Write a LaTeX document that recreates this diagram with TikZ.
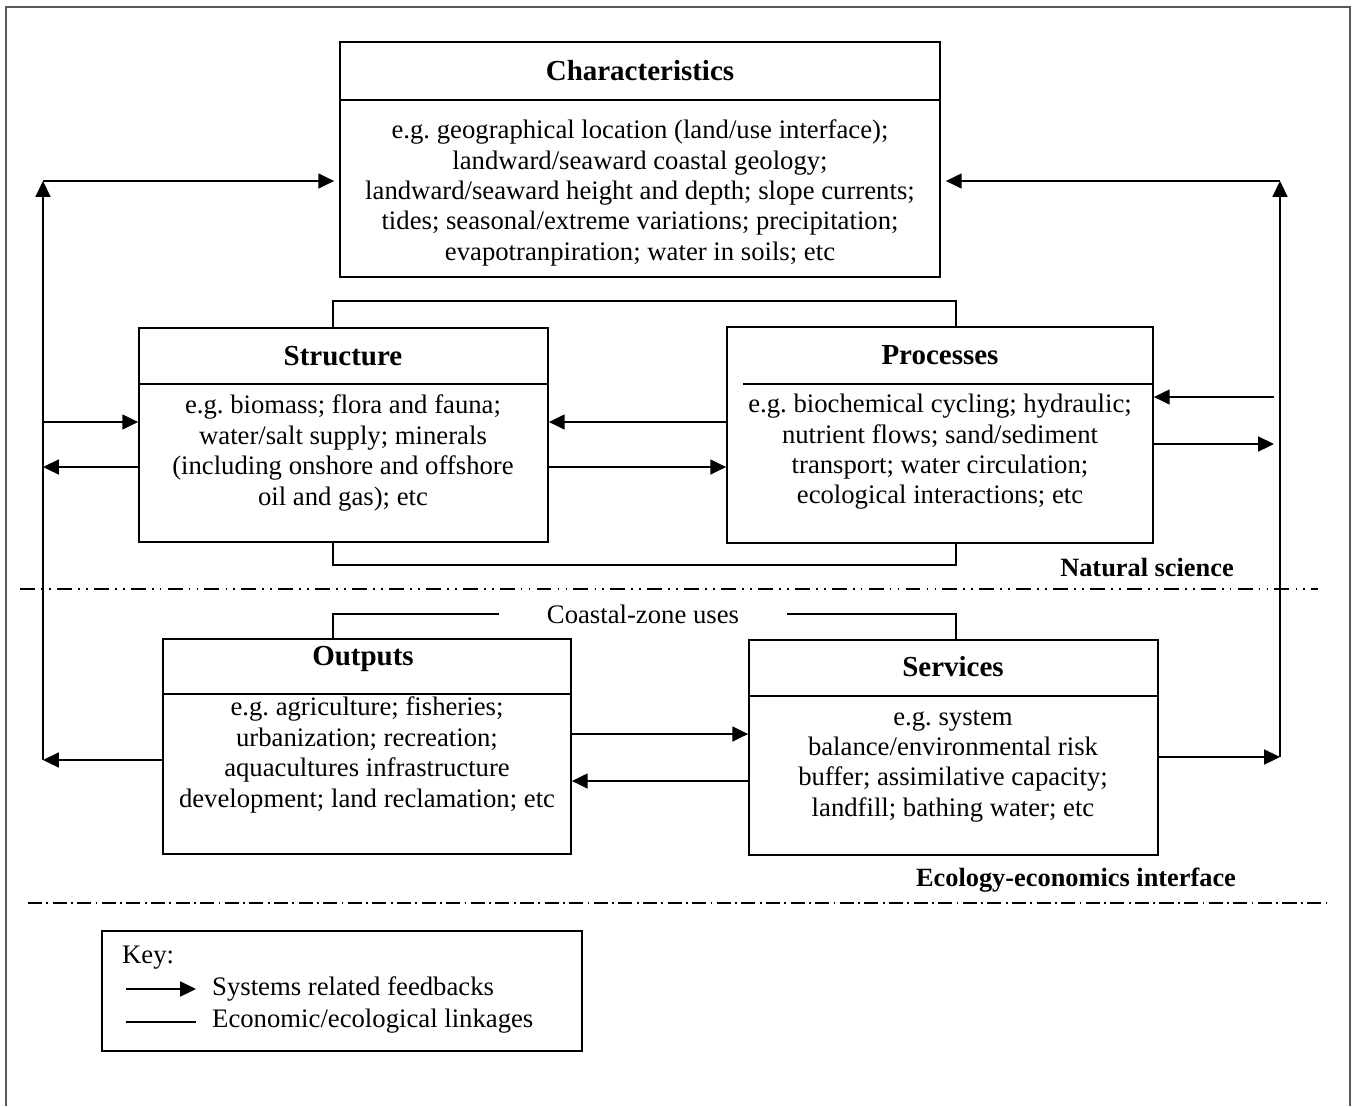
\documentclass[tikz,border=0pt]{standalone}
\usepackage{fontspec}
\setmainfont{Liberation Serif}
\usetikzlibrary{arrows.meta,fit}
\frenchspacing

\begin{document}
\begin{tikzpicture}[x=0.02cm,y=-0.02cm,
		box/.style={draw,line width=1pt,inner sep=0pt},
		ttl/.style={font=\fontsize{16.5}{19}\selectfont\bfseries},
		txt/.style={font=\fontsize{15.2}{17.3}\selectfont,align=center},
		fb/.style={line width=1pt,-{Triangle[length=9pt,width=8.5pt]}},
		link/.style={line width=1pt},
		sepa/.style={line width=1pt,dash pattern=on 8.5pt off 3.5pt on 1pt off 3.5pt on 1pt off 3.5pt},
		sepb/.style={line width=1pt,dash pattern=on 8pt off 2.5pt on 1pt off 2.5pt}]
			\useasboundingbox (0,0) rectangle (1352,1106);
			\draw[gray!70!black,line width=0.8pt] (6,1106) |- (1350,7) -- (1350,1106);
			% characteristics
			\node[box,fit={(340,42) (940,277)}] (char) {};
			\draw[link] (char.west |- 0,100) -- (char.east |- 0,100);
			\node[ttl] (chart) at (640,71) {Characteristics};
			\node[txt] (charb) at (640,193) {e.g. geographical location (land/use interface);\\ landward/seaward coastal geology;\\ landward/seaward height and depth; slope currents;\\ tides; seasonal/extreme variations; precipitation;\\ evapotranpiration; water in soils; etc};
			% structure and processes
			\node[box,fit={(139,328) (548,542)}] (struct) {};
			\draw[link] (struct.west |- 0,384) -- (struct.east |- 0,384);
			\node[ttl] (structt) at (343,356) {Structure};
			\node[txt] (structb) at (343,453) {e.g. biomass; flora and fauna;\\ water/salt supply; minerals\\ (including onshore and offshore\\ oil and gas); etc};
			\node[box,fit={(727,327) (1153,543)}] (proc) {};
			\draw[link] (743,384) -- (proc.east |- 0,384);
			\node[ttl] (proct) at (940,355) {Processes};
			\node[txt] (procb) at (940,452) {e.g. biochemical cycling; hydraulic;\\ nutrient flows; sand/sediment\\ transport; water circulation;\\ ecological interactions; etc};
			\draw[link] (struct.north -| 333,0) |- (956,301) -- (proc.north -| 956,0);
			\draw[link] (struct.south -| 333,0) |- (956,565) -- (proc.south -| 956,0);
			\draw[fb] (proc.west |- 0,422) -- (struct.east |- 0,422);
			\draw[fb] (struct.east |- 0,467) -- (proc.west |- 0,467);
			\node[ttl,font=\fontsize{15}{17}\selectfont\bfseries] (nat) at (1147,568) {Natural science};
			\draw[sepa] (20,589) -- (1318,589);
			% outputs and services
			\node[box,fit={(163,639) (571,854)}] (outp) {};
			\draw[link] (outp.west |- 0,694) -- (outp.east |- 0,694);
			\node[ttl] (outpt) at (363,659) {Outputs};
			\node[txt] (outpb) at (367,755) {e.g. agriculture; fisheries;\\ urbanization; recreation;\\ aquacultures infrastructure\\ development; land reclamation; etc};
			\node[box,fit={(749,640) (1158,855)}] (serv) {};
			\draw[link] (serv.west |- 0,696) -- (serv.east |- 0,696);
			\node[ttl] (servt) at (953,667) {Services};
			\node[txt] (servb) at (953,766) {e.g. system\\ balance/environmental risk\\ buffer; assimilative capacity;\\ landfill; bathing water; etc};
			\node[txt,inner xsep=48*0.02cm] (cz) at (643,614) {Coastal-zone uses};
			\draw[link] (outp.north -| 333,0) |- (cz.west);
			\draw[link] (cz.east) -| (serv.north -| 956,0);
			\draw[fb] (outp.east |- 0,734) -- (serv.west |- 0,734);
			\draw[fb] (serv.west |- 0,781) -- (outp.east |- 0,781);
			\node[ttl,font=\fontsize{15}{17}\selectfont\bfseries] (eco) at (1076,880) {Ecology-economics interface};
			\draw[sepb] (28,903) -- (1328,903);
			% feedback loops
			\coordinate (ltop) at (43,181);
			\coordinate (lbot) at (43,760);
			\coordinate (rtop) at (1280,181);
			\coordinate (rbot) at (1280,757);
			\draw[fb] (lbot) -- (ltop);
			\draw[fb] (ltop) -- ([xshift=-0.1cm]ltop -| char.west);
			\draw[fb] (rbot) -- (rtop);
			\draw[fb] (rtop) -- ([xshift=0.1cm]rtop -| char.east);
			\draw[fb] (ltop |- 0,422) -- (struct.west |- 0,422);
			\draw[fb] (struct.west |- 0,467) -- (ltop |- 0,467);
			\draw[fb,shorten <=0.12cm] (rtop |- 0,397) -- (proc.east |- 0,397);
			\draw[fb,shorten >=0.12cm] (proc.east |- 0,444) -- (rtop |- 0,444);
			\draw[fb] (outp.west |- lbot) -- (lbot);
			\draw[fb] (serv.east |- rbot) -- (rbot);
			% key
			\node[box,fit={(102,931) (582,1051)}] (key) {};
			\node[txt,anchor=west] (keyt) at (116,958) {Key:};
			\coordinate (ka) at (126,989);
			\coordinate (kb) at (126,1022);
			\node[txt,anchor=west] (k1) at (206,989) {Systems related feedbacks};
			\node[txt,anchor=west] (k2) at (206,1021) {Economic/ecological linkages};
			\draw[fb,shorten >=0.2cm] (ka) -- (k1.west);
			\draw[link] (kb) -- ++(70,0);
		\end{tikzpicture}
\end{document}
